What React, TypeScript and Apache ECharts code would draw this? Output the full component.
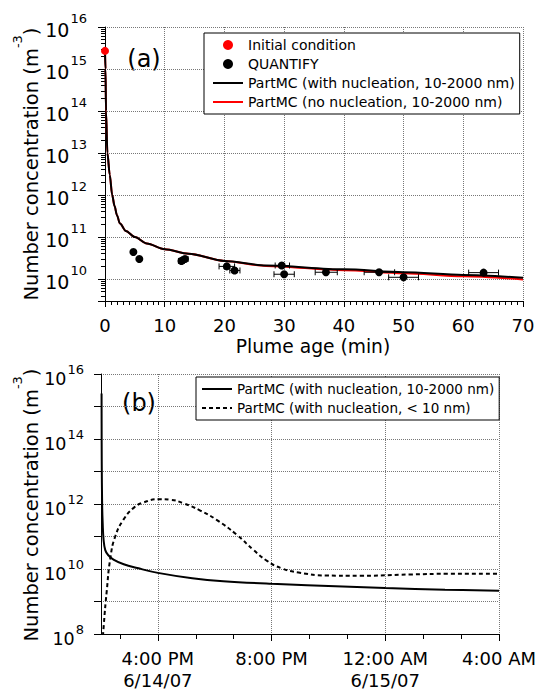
import React, { useEffect, useRef } from 'react';
import * as echarts from 'echarts';

const FONT = '"DejaVu Sans", "Liberation Sans", sans-serif';

// ---------- Panel (a): plume age (min) vs number concentration ----------
const initialAge = [0];
const initialConc = [2.7e15];

const quantifyAge = [4.75, 5.75, 12.8, 13.4, 20.4, 21.7, 29.6, 30.0, 37.0, 45.9, 50.0, 63.4];
const quantifyConc = [4.4e10, 3.0e10, 2.7e10, 3.0e10, 2.0e10, 1.6e10, 2.1e10, 1.3e10, 1.45e10, 1.45e10, 1.1e10, 1.42e10];
const quantifyAgeLow = [4.75, 5.75, 12.3, 12.9, 19.1, 20.9, 28.5, 28.3, 35.2, 43.4, 47.5, 60.9];
const quantifyAgeHigh = [4.75, 5.75, 13.3, 13.9, 21.7, 22.6, 30.9, 31.7, 38.9, 48.5, 52.5, 65.9];

const modelAge = [0, 0.08, 0.17, 0.4, 0.8, 1.2, 1.6, 2.0, 2.5, 3.5, 5, 7, 10, 14, 20, 27, 40, 50, 60, 70];
const withNucConc = [2.7e15, 1e15, 1e14, 1e13, 3e12, 1e12, 5.5e11, 3.3e11, 2.1e11, 1.4e11, 1.0e11, 7e10, 5.1e10, 4.0e10, 2.7e10, 2.1e10, 1.7e10, 1.45e10, 1.25e10, 1.07e10];
const noNucConc = [2.7e15, 1e15, 1e14, 1e13, 3e12, 1e12, 5.5e11, 3.3e11, 2.1e11, 1.4e11, 1.0e11, 7e10, 5.1e10, 4.0e10, 2.7e10, 2.05e10, 1.62e10, 1.38e10, 1.17e10, 9.8e9];

// ---------- Panel (b): clock time (hours since 0:00 6/14/07) ----------
const solidHours = [14.02, 14.022, 14.026, 14.04, 14.06, 14.09, 14.15, 14.25, 14.44, 14.8, 15.28, 16.0, 17.21, 18.3, 20.0, 22.5, 24.0, 26.1, 28.0];
const solidConc = [2.5e15, 3e14, 2e13, 1e12, 2.5e11, 8e10, 3.8e10, 2.7e10, 1.95e10, 1.4e10, 1.07e10, 7.6e9, 5.2e9, 4.2e9, 3.5e9, 2.9e9, 2.6e9, 2.3e9, 2.15e9];

const nucHours = [14.02, 14.06, 14.1, 14.2, 14.33, 14.5, 14.79, 15.15, 15.5, 16.03, 16.44, 16.9, 17.49, 18.08, 18.78, 19.37, 19.84, 20.35, 20.95, 21.92, 23.12, 24.93, 26.14, 28.0];
const nucConc = [1e6, 5e7, 2e8, 2e9, 2.2e10, 1e11, 3.3e11, 7.6e11, 1.12e12, 1.4e12, 1.35e12, 1.05e12, 6.3e11, 3.2e11, 1.12e11, 3.8e10, 1.78e10, 1.05e10, 7.8e9, 6.3e9, 6.2e9, 6.8e9, 7.1e9, 7.1e9];

const timeTickHours = [16, 20, 24, 28];
const timeTickLabels = ['4:00 PM\n6/14/07', '8:00 PM', '12:00 AM\n6/15/07', '4:00 AM'];
const timeMinorHours = [14.6667, 17.3333, 18.6667, 21.3333, 22.6667, 25.3333, 26.6667];

const NAME_INIT = 'Initial condition';
const NAME_QUANT = 'QUANTIFY';
const NAME_WITH = 'PartMC (with nucleation, 10-2000 nm)';
const NAME_NO = 'PartMC (no nucleation, 10-2000 nm)';
const NAME_SMALL = 'PartMC (with nucleation, < 10 nm)';

const zip = (xs: number[], ys: number[]) => xs.map((x, i) => [x, ys[i]]);

const minorLogTicks = (lo: number, hi: number) => {
  const out: number[] = [];
  for (let e = 9; e <= 15; e++) {
    for (let k = 2; k <= 9; k++) {
      const v = k * Math.pow(10, e);
      if (v > lo && v < hi) out.push(v);
    }
  }
  return out;
};

const powLabel = (showOdd: boolean) => (v: number) => {
  const e = Math.round(Math.log10(v));
  if (Math.abs(v - Math.pow(10, e)) / Math.pow(10, e) > 1e-6) return '';
  if (!showOdd && e % 2 !== 0) return '';
  return `{b|10}{e|${e}}`;
};

const gridLine = { show: true, lineStyle: { color: '#777', width: 1, type: [1, 1] as any } };
const black = { color: '#000', width: 1 };
const hiddenSymbol = { opacity: 0 };

export default function App() {
  const ref = useRef<HTMLDivElement>(null);

  useEffect(() => {
    if (!ref.current) return;
    const chart = echarts.init(ref.current, undefined, { renderer: 'svg' });

    const errorData = quantifyAge.map((a, i) => [a, quantifyConc[i], quantifyAgeLow[i], quantifyAgeHigh[i]]);

    const yTitle = (y: number) => ({
      type: 'text', x: 31, y, rotation: Math.PI / 2,
      style: {
        text: 'Number concentration (m{s|-3})', fontSize: 19.5, fontFamily: FONT, fill: '#000',
        align: 'center', verticalAlign: 'middle',
        rich: { s: { fontSize: 13, fontFamily: FONT, fill: '#000', padding: [0, 0, 27, 0] } },
      },
    });

    const option: any = {
      animation: false,
      backgroundColor: '#fff',
      textStyle: { fontFamily: FONT, color: '#000' },
      grid: [
        { left: 105, top: 27, right: 14, bottom: 388, outerBoundsMode: 'none', containLabel: false },
        { left: 101, top: 374, right: 38, bottom: 55, outerBoundsMode: 'none', containLabel: false },
      ],
      xAxis: [
        {
          gridIndex: 0, type: 'value', min: 0, max: 70, interval: 10,
          axisLine: { onZero: false, lineStyle: black },
          axisTick: { length: 6, lineStyle: black },
          minorTick: { show: true, splitNumber: 10, length: 4, lineStyle: black },
          axisLabel: { fontSize: 18, color: '#000', margin: 15, fontFamily: FONT },
          splitLine: gridLine,
          minorSplitLine: { show: false },
        },
        {
          gridIndex: 1, type: 'value', min: 14, max: 28, position: 'bottom',
          axisLine: { onZero: false, lineStyle: black },
          axisTick: { customValues: timeTickHours, length: 7, lineStyle: black },
          axisLabel: {
            customValues: timeTickHours, fontSize: 18, lineHeight: 22, color: '#000', margin: 13, fontFamily: FONT,
            formatter: (v: number) => {
              const i = timeTickHours.findIndex((h) => Math.abs(h - v) < 1e-6);
              return i >= 0 ? timeTickLabels[i] : '';
            },
          },
          splitLine: gridLine,
        },
        {
          gridIndex: 1, type: 'value', min: 14, max: 28, position: 'bottom',
          axisLine: { show: false, onZero: false },
          axisTick: { customValues: timeMinorHours, length: 5, lineStyle: black },
          axisLabel: { show: false },
          splitLine: { show: false },
        },
      ],
      yAxis: [
        {
          gridIndex: 0, type: 'log', logBase: 10, min: 3e9, max: 1e16, position: 'left',
          axisLine: { lineStyle: black },
          axisTick: { length: 7, lineStyle: black },
          axisLabel: {
            formatter: powLabel(true), margin: 18, color: '#000',
            rich: {
              b: { fontSize: 19, fontFamily: FONT, color: '#000', padding: [6, 0, 0, 0] },
              e: { fontSize: 13, fontFamily: FONT, color: '#000', padding: [0, 0, 18, 1] },
            },
          },
          splitLine: gridLine,
        },
        {
          gridIndex: 0, type: 'log', logBase: 10, min: 3e9, max: 1e16, position: 'left',
          axisLine: { show: false },
          axisTick: { customValues: minorLogTicks(3.05e9, 1e16), length: 4, lineStyle: black },
          axisLabel: { show: false },
          splitLine: { show: false },
        },
        {
          gridIndex: 1, type: 'log', logBase: 10, min: 1e8, max: 1e16, position: 'left',
          axisLine: { lineStyle: black },
          axisTick: { length: 7, lineStyle: black },
          axisLabel: {
            formatter: powLabel(false), margin: 17, color: '#000',
            rich: {
              b: { fontSize: 17.5, fontFamily: FONT, color: '#000', padding: [10, 0, 0, 0] },
              e: { fontSize: 13, fontFamily: FONT, color: '#000', padding: [0, 0, 10, 1] },
            },
          },
          splitLine: gridLine,
        },
      ],
      legend: [
        {
          orient: 'vertical', left: 204, top: 33, padding: [5, 5, 5, 8], itemGap: 5,
          itemWidth: 30, itemHeight: 10, borderColor: '#000', borderWidth: 1, backgroundColor: '#fff',
          selectedMode: false,
          textStyle: { fontFamily: FONT, fontSize: 14, color: '#000' },
          data: [
            { name: NAME_INIT },
            { name: NAME_QUANT },
            { name: NAME_WITH, itemStyle: hiddenSymbol },
            { name: NAME_NO, itemStyle: hiddenSymbol },
          ],
        },
        {
          orient: 'vertical', left: 196, top: 377, padding: [5, 5, 5, 5], itemGap: 5,
          itemWidth: 30, itemHeight: 10, borderColor: '#000', borderWidth: 1, backgroundColor: '#fff',
          selectedMode: false,
          textStyle: { fontFamily: FONT, fontSize: 13.5, color: '#000' },
          data: [
            { name: NAME_WITH, itemStyle: hiddenSymbol },
            { name: NAME_SMALL, itemStyle: hiddenSymbol },
          ],
        },
      ],
      series: [
        {
          name: NAME_NO, type: 'line', xAxisIndex: 0, yAxisIndex: 0, data: zip(modelAge, noNucConc),
          symbol: 'none', smooth: 0.3, smoothMonotone: 'x', z: 2,
          lineStyle: { color: '#ff0000', width: 2 }, itemStyle: { color: '#ff0000' },
        },
        {
          name: NAME_WITH, type: 'line', xAxisIndex: 0, yAxisIndex: 0, data: zip(modelAge, withNucConc),
          symbol: 'none', smooth: 0.3, smoothMonotone: 'x', z: 3,
          lineStyle: { color: '#000', width: 2 }, itemStyle: { color: '#000' },
        },
        {
          name: 'QUANTIFY error', type: 'custom', xAxisIndex: 0, yAxisIndex: 0, z: 4,
          data: errorData,
          encode: { x: [0, 2, 3], y: 1 },
          renderItem: (params: any, api: any) => {
            const y = api.value(1);
            const lo = api.value(2);
            const hi = api.value(3);
            if (hi - lo <= 0) return { type: 'group', children: [] };
            const p1 = api.coord([lo, y]);
            const p2 = api.coord([hi, y]);
            const h = 3;
            const style = { stroke: '#000', lineWidth: 1 };
            return {
              type: 'group',
              children: [
                { type: 'line', shape: { x1: p1[0], y1: p1[1], x2: p2[0], y2: p2[1] }, style },
                { type: 'line', shape: { x1: p1[0], y1: p1[1] - h, x2: p1[0], y2: p1[1] + h }, style },
                { type: 'line', shape: { x1: p2[0], y1: p2[1] - h, x2: p2[0], y2: p2[1] + h }, style },
              ],
            };
          },
        },
        {
          name: NAME_QUANT, type: 'scatter', xAxisIndex: 0, yAxisIndex: 0, z: 5,
          data: zip(quantifyAge, quantifyConc), symbol: 'circle', symbolSize: 8,
          itemStyle: { color: '#000', opacity: 1 },
        },
        {
          name: NAME_INIT, type: 'scatter', xAxisIndex: 0, yAxisIndex: 0, z: 6,
          data: zip(initialAge, initialConc), symbol: 'circle', symbolSize: 8,
          itemStyle: { color: '#ff0000', opacity: 1 },
        },
        {
          name: NAME_WITH, type: 'line', xAxisIndex: 1, yAxisIndex: 2, data: zip(solidHours, solidConc),
          symbol: 'none', smooth: 0.4, z: 3,
          lineStyle: { color: '#000', width: 2 }, itemStyle: { color: '#000' },
        },
        {
          name: NAME_SMALL, type: 'line', xAxisIndex: 1, yAxisIndex: 2, data: zip(nucHours, nucConc),
          symbol: 'none', smooth: 0.5, z: 3,
          lineStyle: { color: '#000', width: 2, type: [4, 3] }, itemStyle: { color: '#000' },
        },
      ],
      graphic: [
        {
          type: 'text', x: 144, y: 59,
          style: { text: '(a)', fontSize: 24, fontFamily: FONT, fill: '#000', align: 'center', verticalAlign: 'middle' },
        },
        {
          type: 'text', x: 139, y: 403,
          style: { text: '(b)', fontSize: 24, fontFamily: FONT, fill: '#000', align: 'center', verticalAlign: 'middle' },
        },
        yTitle(164),
        yTitle(505),
        {
          type: 'text', x: 313, y: 346,
          style: { text: 'Plume age (min)', fontSize: 18.7, fontFamily: FONT, fill: '#000', align: 'center', verticalAlign: 'middle' },
        },
      ],
    };

    chart.setOption(option);
    return () => chart.dispose();
  }, []);

  return (
    <div
      ref={ref}
      style={{ position: 'fixed', left: 0, top: 0, width: 537, height: 689, background: '#fff' }}
    />
  );
}
